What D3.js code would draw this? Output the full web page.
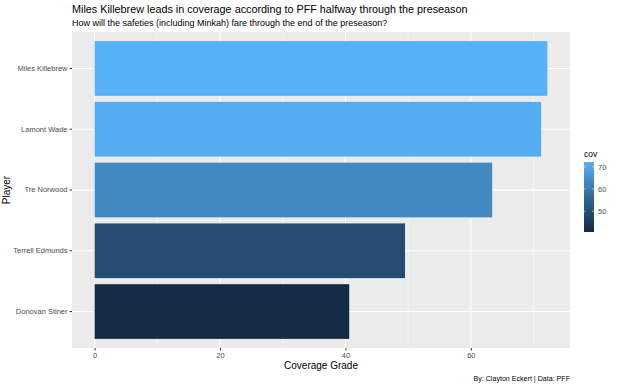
<!DOCTYPE html>
<html><head><meta charset="utf-8">
<script src="https://cdn.jsdelivr.net/npm/d3@7"></script>
<style>body{margin:0;background:#fff;} text{font-family:"Liberation Sans",Arial,sans-serif;}</style>
</head><body>
<svg id="c" width="620" height="386"></svg>
<script>
const players = ["Miles Killebrew","Lamont Wade","Tre Norwood","Terrell Edmunds","Donovan Stiner"];
const cov = [72.2, 71.2, 63.4, 49.5, 40.6];
const xTicks = [0,20,40,60];
const xMinor = [10,30,50,70];
const legendTicks = [50,60,70];

const svg = d3.select("#c");
const L=72, R=570, T=32, B=348;
const xmax = d3.max(cov), pad = xmax*0.05;
const x = d3.scaleLinear().domain([-pad, xmax+pad]).range([L,R]);
const y = d3.scaleBand().domain(players).range([T,B]).paddingInner(0.1).paddingOuter(0.15);
const col = d3.scaleLinear().domain([d3.min(cov), d3.max(cov)]).range(["#132B43","#56B1F7"]).interpolate(d3.interpolateLab);

svg.append("rect").attr("x",L).attr("y",T).attr("width",R-L).attr("height",B-T).attr("fill","#EBEBEB");
const g = svg.append("g");
xMinor.forEach(v=>g.append("line").attr("x1",x(v)).attr("x2",x(v)).attr("y1",T).attr("y2",B).attr("stroke","#fff").attr("stroke-width",0.5));
xTicks.forEach(v=>g.append("line").attr("x1",x(v)).attr("x2",x(v)).attr("y1",T).attr("y2",B).attr("stroke","#fff").attr("stroke-width",1.1));
players.forEach(p=>g.append("line").attr("x1",L).attr("x2",R).attr("y1",y(p)+y.bandwidth()/2).attr("y2",y(p)+y.bandwidth()/2).attr("stroke","#fff").attr("stroke-width",1.1));

svg.selectAll(".bar").data(players).join("rect").attr("class","bar")
  .attr("x",x(0)).attr("y",d=>y(d)).attr("height",y.bandwidth())
  .attr("width",(d,i)=>x(cov[i])-x(0)).attr("fill",(d,i)=>col(cov[i]));

// y axis
const ya = svg.append("g").attr("transform",`translate(${L},0)`)
  .call(d3.axisLeft(y).tickSize(2.5).tickPadding(2));
ya.select(".domain").remove();
ya.selectAll("line").attr("stroke","#333");
ya.selectAll("text").attr("fill","#4D4D4D").style("font-size","7.5px").style("font-family","Liberation Sans, Arial, sans-serif");
// x axis
const xa = svg.append("g").attr("transform",`translate(0,${B})`)
  .call(d3.axisBottom(x).tickValues(xTicks).tickSize(2.5).tickPadding(2));
xa.select(".domain").remove();
xa.selectAll("line").attr("stroke","#333");
xa.selectAll("text").attr("fill","#4D4D4D").style("font-size","7.5px").style("font-family","Liberation Sans, Arial, sans-serif");

svg.append("text").attr("x",(L+R)/2).attr("y",369).attr("text-anchor","middle").style("font-size","10px").attr("fill","#000").text("Coverage Grade");
svg.append("text").attr("transform",`translate(10,${(T+B)/2}) rotate(-90)`).attr("text-anchor","middle").style("font-size","10px").attr("fill","#000").text("Player");
svg.append("text").attr("x",L).attr("y",13).style("font-size","10.8px").attr("fill","#000").text("Miles Killebrew leads in coverage according to PFF halfway through the preseason");
svg.append("text").attr("x",L).attr("y",26).style("font-size","9px").attr("fill","#000").text("How will the safeties (including Minkah) fare through the end of the preseason?");
svg.append("text").attr("x",R).attr("y",381).attr("text-anchor","end").style("font-size","7.1px").attr("fill","#000").text("By: Clayton Eckert | Data: PFF");

// legend
const lx=584, lw=10, ly0=162, ly1=232;
const ls = d3.scaleLinear().domain([d3.min(cov), d3.max(cov)]).range([ly1, ly0]);
const defs = svg.append("defs");
const grad = defs.append("linearGradient").attr("id","gr").attr("x1",0).attr("x2",0).attr("y1",1).attr("y2",0);
d3.range(0,1.001,0.1).forEach(t=>grad.append("stop").attr("offset",t).attr("stop-color",col(d3.min(cov)+t*(d3.max(cov)-d3.min(cov)))));
svg.append("text").attr("x",lx).attr("y",157).style("font-size","8.5px").attr("fill","#000").text("cov");
svg.append("rect").attr("x",lx).attr("y",ly0).attr("width",lw).attr("height",ly1-ly0).attr("fill","url(#gr)");
legendTicks.forEach(v=>{
  svg.append("line").attr("x1",lx).attr("x2",lx+2).attr("y1",ls(v)).attr("y2",ls(v)).attr("stroke","#fff").attr("stroke-width",0.5);
  svg.append("line").attr("x1",lx+lw-2).attr("x2",lx+lw).attr("y1",ls(v)).attr("y2",ls(v)).attr("stroke","#fff").attr("stroke-width",0.5);
  svg.append("text").attr("x",lx+lw+4).attr("y",ls(v)+2.7).style("font-size","7.5px").attr("fill","#4D4D4D").text(v);
});
</script>
</body></html>
